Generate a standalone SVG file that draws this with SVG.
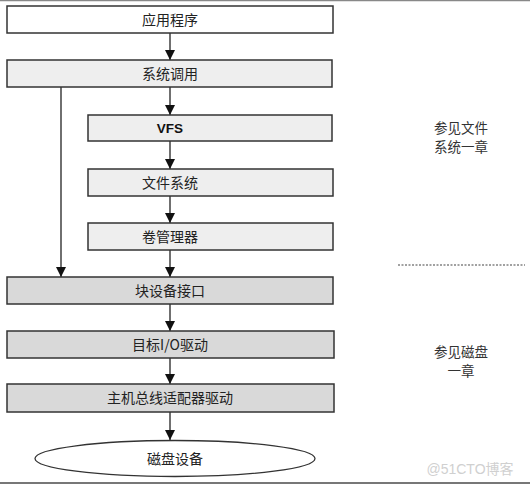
<svg xmlns="http://www.w3.org/2000/svg" width="530" height="485" viewBox="0 0 530 485">
<style>
.box{stroke:#333;stroke-width:1.5}
.w{fill:#ffffff}
.l{fill:#eeeeee}
.d{fill:#d9d9d9}
.t{font-family:"Noto Sans CJK SC","Liberation Sans",sans-serif;font-size:14px;fill:#222;text-anchor:middle}
.s{font-family:"Noto Sans CJK SC","Liberation Sans",sans-serif;font-size:13.5px;fill:#333;text-anchor:middle}
.c{stroke:#222;stroke-width:1.3;fill:none}
</style>
<defs>
<marker id="ah" viewBox="0 0 10 10" refX="10" refY="5" markerWidth="10" markerHeight="10" markerUnits="userSpaceOnUse" orient="auto">
<path d="M0,0 L10,5 L0,10 Z" fill="#111"/>
</marker>
</defs>
<rect x="0" y="0" width="530" height="485" fill="#fff"/>
<line x1="0" y1="0.5" x2="530" y2="0.5" stroke="#888" stroke-width="1.5"/>
<line x1="0" y1="483" x2="530" y2="483" stroke="#777" stroke-width="2"/>
<g id="connectors">
<line class="c" x1="170" y1="33" x2="170" y2="60" marker-end="url(#ah)"/>
<line class="c" x1="170" y1="87" x2="170" y2="115" marker-end="url(#ah)"/>
<line class="c" x1="170" y1="141" x2="170" y2="169" marker-end="url(#ah)"/>
<line class="c" x1="170" y1="196" x2="170" y2="223" marker-end="url(#ah)"/>
<line class="c" x1="170" y1="250" x2="170" y2="277" marker-end="url(#ah)"/>
<line class="c" x1="61" y1="87" x2="61" y2="277" marker-end="url(#ah)"/>
<line class="c" x1="170" y1="304" x2="170" y2="331" marker-end="url(#ah)"/>
<line class="c" x1="170" y1="358" x2="170" y2="384" marker-end="url(#ah)"/>
<line class="c" x1="170" y1="412" x2="170" y2="440" marker-end="url(#ah)"/>
</g>
<g id="n1"><rect class="box w" x="7" y="6" width="326" height="27"/><text class="t" x="170" y="24.5">应用程序</text></g>
<g id="n2"><rect class="box l" x="7" y="60" width="325" height="27"/><text class="t" x="170" y="78.5">系统调用</text></g>
<g id="n3"><rect class="box l" x="88" y="115" width="244" height="26"/><text x="170" y="133" text-anchor="middle" font-family="Liberation Sans,Arial,sans-serif" font-weight="bold" font-size="13.5" fill="#111">VFS</text></g>
<g id="n4"><rect class="box l" x="88" y="169" width="245" height="27"/><text class="t" x="170" y="187.5">文件系统</text></g>
<g id="n5"><rect class="box l" x="88" y="223" width="245" height="27"/><text class="t" x="170" y="241.5">卷管理器</text></g>
<g id="n6"><rect class="box d" x="7" y="277" width="326" height="27"/><text class="t" x="170" y="295.5">块设备接口</text></g>
<g id="n7"><rect class="box d" x="7" y="331" width="327" height="27"/><text class="t" x="170" y="349.5">目标I/O驱动</text></g>
<g id="n8"><rect class="box d" x="7" y="384" width="327" height="28"/><text class="t" x="170" y="403">主机总线适配器驱动</text></g>
<g id="n9"><ellipse cx="175" cy="458.5" rx="140" ry="18" fill="#fff" stroke="#333" stroke-width="1.3"/><text class="t" x="175" y="463.5">磁盘设备</text></g>
<g id="notes">
<text class="s" x="461" y="133">参见文件</text>
<text class="s" x="461" y="152">系统一章</text>
<line x1="398" y1="265" x2="525" y2="265" stroke="#444" stroke-width="1.2" stroke-dasharray="2,1.5"/>
<text class="s" x="461" y="357">参见磁盘</text>
<text class="s" x="461" y="376">一章</text>
</g>
<text x="470" y="474" text-anchor="middle" font-family="Liberation Sans,'Noto Sans CJK SC',sans-serif" font-size="14" fill="#d0d0d0">@51CTO博客</text>
</svg>
